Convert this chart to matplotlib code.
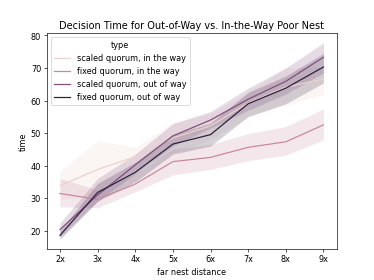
import numpy as np
import matplotlib
matplotlib.use('Agg')
import matplotlib.pyplot as plt
import seaborn as sns

distances = ['2x', '3x', '4x', '5x', '6x', '7x', '8x', '9x']
series_names = ['scaled quorum, in the way', 'fixed quorum, in the way',
                'scaled quorum, out of way', 'fixed quorum, out of way']

# mean values
scaled_in = [33.8, 38.8, 42.7, 48.5, 52.2, 59.2, 64.1, 66.6]
fixed_in = [31.4, 29.6, 34.3, 41.2, 42.5, 45.6, 47.3, 52.5]
scaled_out = [20.3, 30.9, 40.2, 49.1, 54.0, 60.4, 65.9, 73.3]
fixed_out = [18.5, 31.7, 37.9, 46.6, 49.5, 59.0, 63.8, 70.3]

# confidence bands (low, high)
scaled_in_lo = [29.5, 31.0, 39.0, 44.0, 48.0, 55.0, 58.5, 62.0]
scaled_in_hi = [38.1, 47.6, 45.6, 53.2, 56.0, 62.5, 70.0, 70.5]
fixed_in_lo = [27.3, 27.0, 31.9, 37.1, 38.8, 41.5, 43.2, 47.9]
fixed_in_hi = [36.0, 32.5, 37.5, 45.0, 46.5, 49.8, 52.0, 57.4]
scaled_out_lo = [18.0, 29.0, 37.5, 46.0, 51.5, 57.0, 62.0, 68.5]
scaled_out_hi = [22.3, 36.0, 43.5, 52.9, 56.6, 63.8, 70.0, 77.7]
fixed_out_lo = [17.3, 29.0, 35.0, 43.5, 46.0, 55.1, 59.0, 65.4]
fixed_out_hi = [20.0, 34.5, 41.0, 49.5, 53.0, 62.5, 67.5, 74.5]

means = [scaled_in, fixed_in, scaled_out, fixed_out]
lows = [scaled_in_lo, fixed_in_lo, scaled_out_lo, fixed_out_lo]
highs = [scaled_in_hi, fixed_in_hi, scaled_out_hi, fixed_out_hi]

cmap = sns.cubehelix_palette(as_cmap=True)
colors = [cmap(v) for v in np.linspace(0, 1, 4)]
x = np.arange(len(distances))

fig, ax = plt.subplots(figsize=(6.4, 4.8), dpi=58.44)
for name, m, lo, hi, c in zip(series_names, means, lows, highs, colors):
    ax.plot(x, m, color=c, label=name, linewidth=1.5)
    ax.fill_between(x, lo, hi, color=c, alpha=0.2, linewidth=0)

ax.set_xticks(x)
ax.set_xticklabels(distances)
ax.set_xlabel('far nest distance')
ax.set_ylabel('time')
ax.set_title('Decision Time for Out-of-Way vs. In-the-Way Poor Nest')
ax.legend(title='type', loc='upper left')

fig.savefig('out.png', dpi=58.44)
